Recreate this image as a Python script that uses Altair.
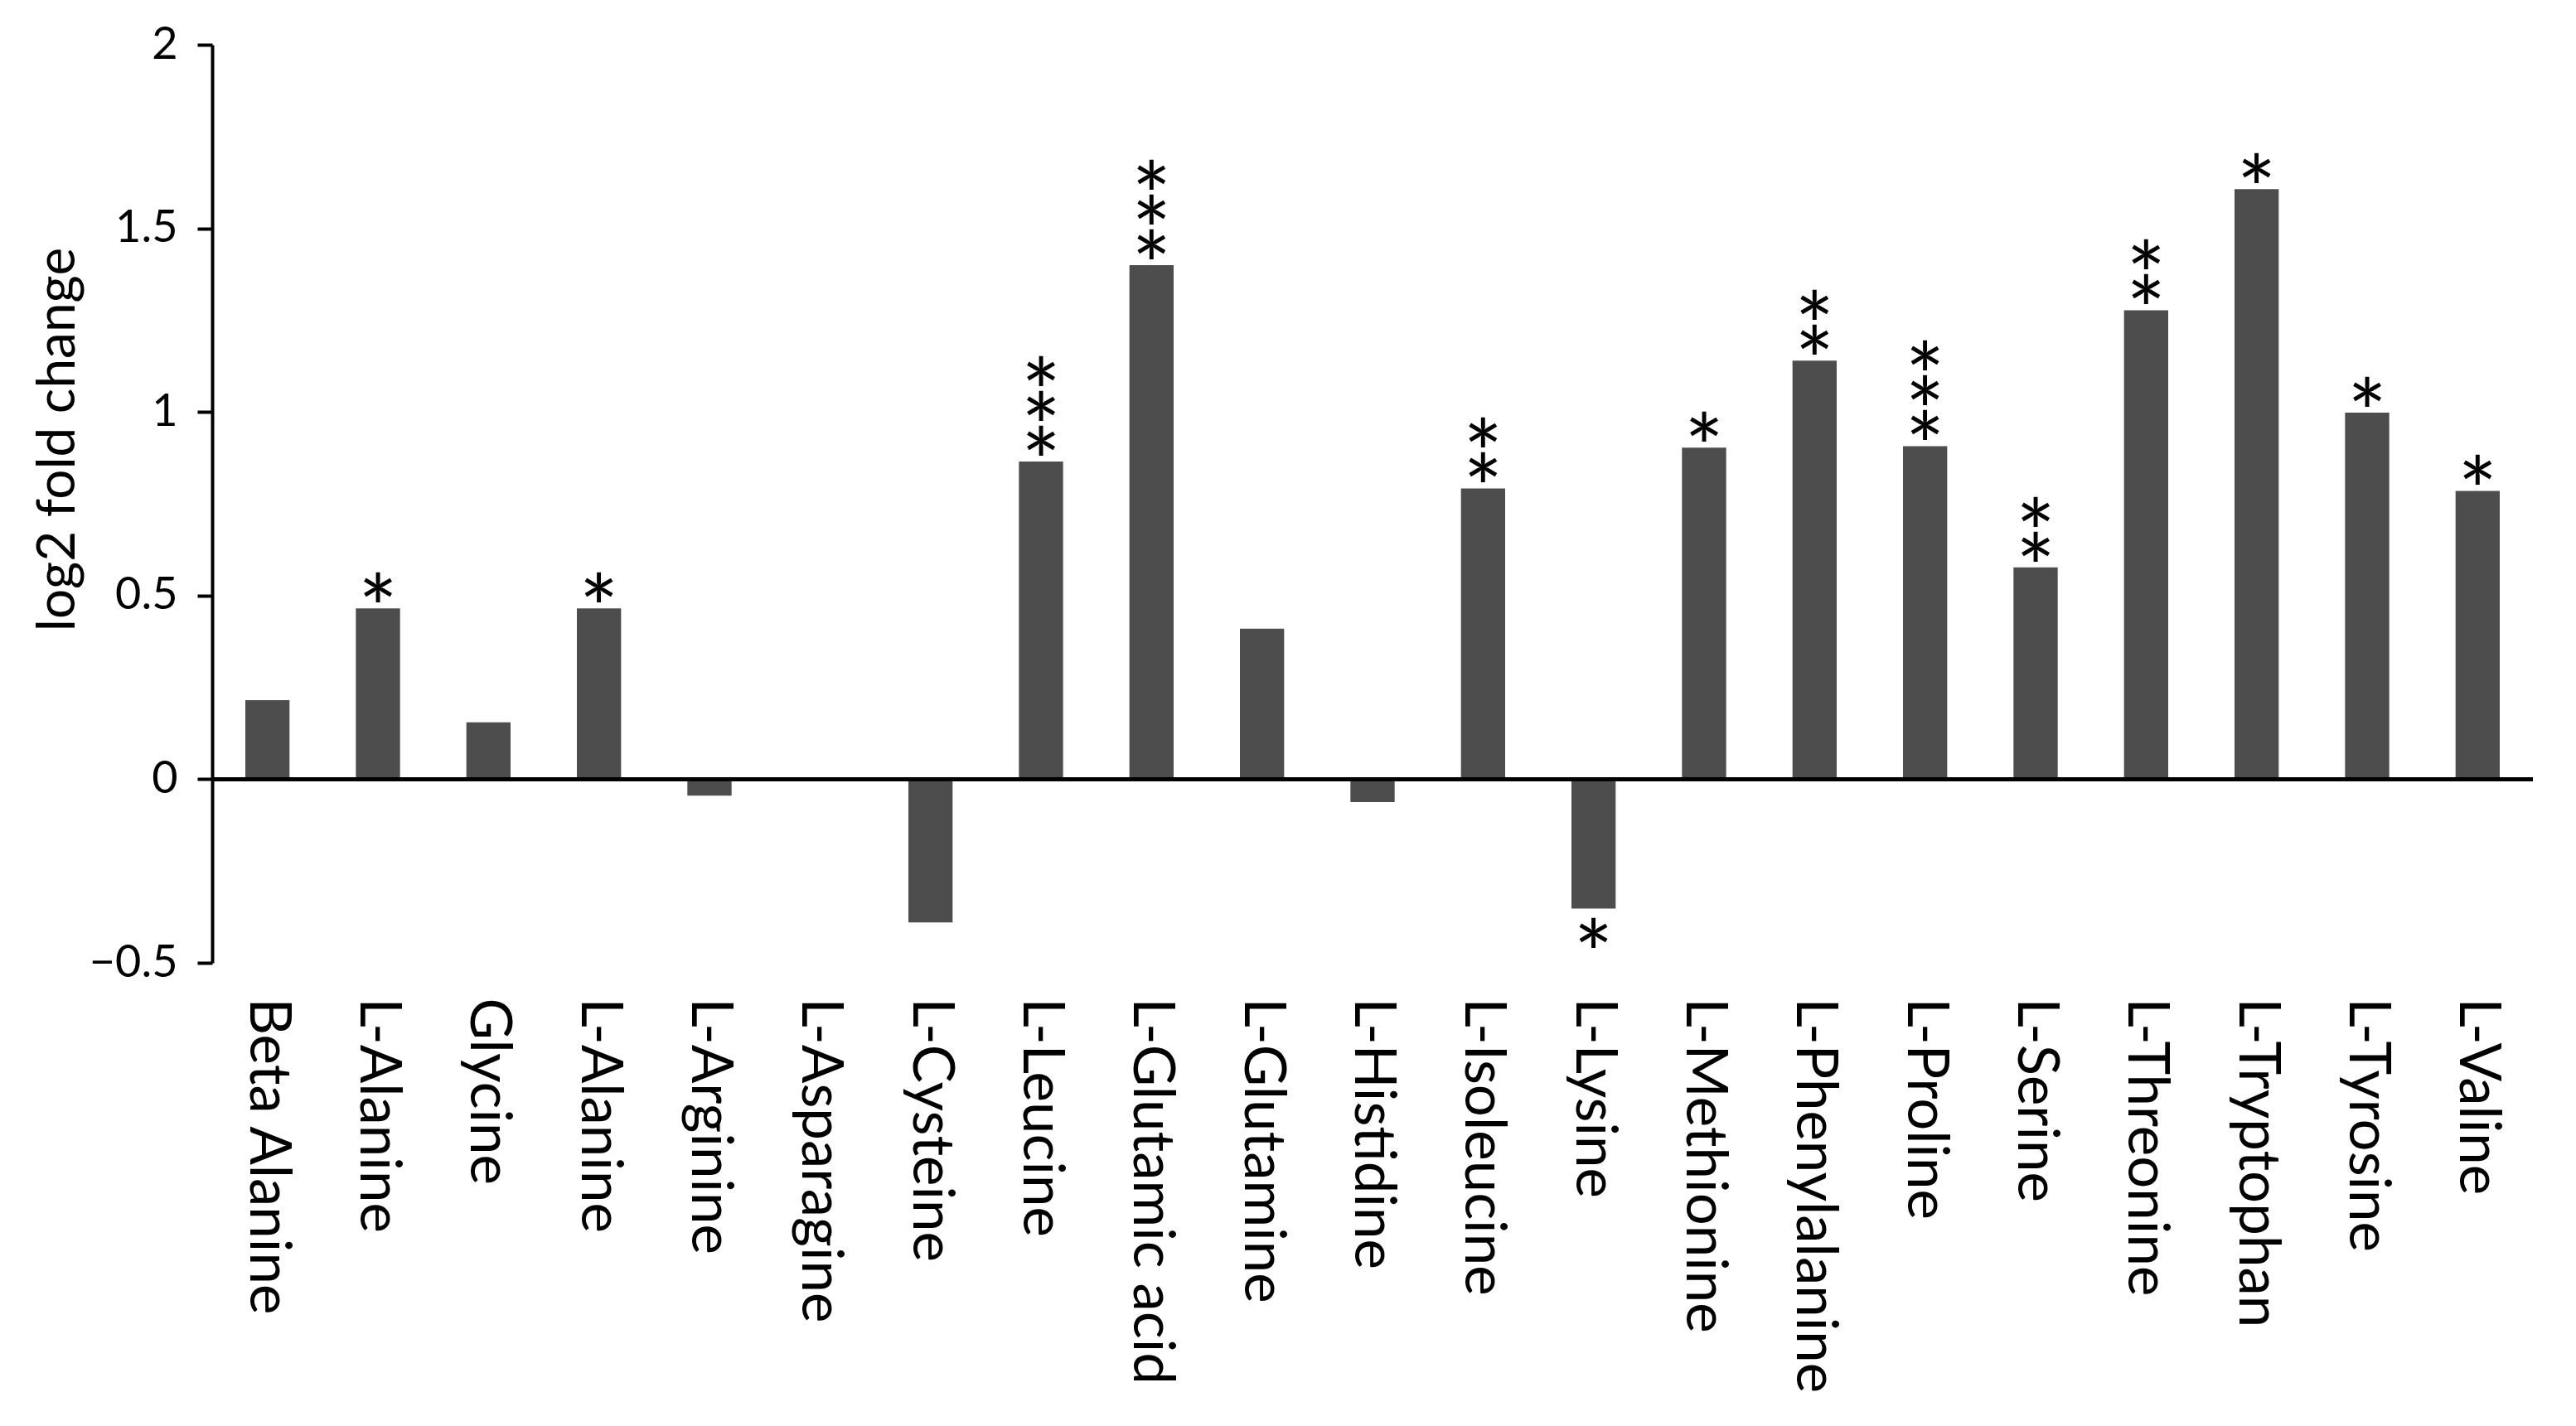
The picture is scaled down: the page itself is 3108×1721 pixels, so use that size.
import altair as alt
import pandas as pd

names = ["Beta Alanine", "L-Alanine", "Glycine", "L-Alanine", "L-Arginine",
         "L-Asparagine", "L-Cysteine", "L-Leucine", "L-Glutamic acid", "L-Glutamine",
         "L-Histidine", "L-Isoleucine", "L-Lysine", "L-Methionine", "L-Phenylalanine",
         "L-Proline", "L-Serine", "L-Threonine", "L-Tryptophan", "L-Tyrosine", "L-Valine"]
values = [0.215, 0.465, 0.155, 0.465, -0.045,
          0.0, -0.39, 0.865, 1.40, 0.41,
          -0.062, 0.792, -0.352, 0.903, 1.14,
          0.907, 0.577, 1.277, 1.607, 0.998, 0.785]
stars = [0, 1, 0, 1, 0,
         0, 0, 3, 3, 0,
         0, 2, 1, 1, 2,
         3, 2, 2, 1, 1, 1]
y_ticks = [-0.5, 0, 0.5, 1, 1.5, 2]

df = pd.DataFrame({
    "idx": list(range(len(names))),
    "name": names,
    "value": values,
    "n": stars,
})

label_expr = "[" + ",".join("'%s'" % n for n in names) + "][datum.value]"
FONT = "Lato"
STAR_SIZE = 112
PITCH = 42

x_enc = alt.X(
    "idx:O",
    scale=alt.Scale(paddingInner=0.6, paddingOuter=0.3),
    axis=alt.Axis(
        title=None, labelExpr=label_expr, labelAngle=90, labelAlign="left",
        labelBaseline="middle", domain=False, ticks=False, labelPadding=42,
        labelFont=FONT, labelFontSize=69, labelColor="#000000", labelLimit=0,
    ),
)
y_enc = alt.Y(
    "value:Q",
    scale=alt.Scale(domain=[-0.5, 2], nice=False, zero=True),
    axis=alt.Axis(
        values=y_ticks, format="~g", grid=False,
        title="log2 fold change", titleFont=FONT, titleFontSize=64,
        titleFontWeight="normal", titleColor="#000000",
        titleAngle=270, titleAlign="center", titleBaseline="middle",
        titleX=-186, titleY=476,
        domainColor="#000000", domainWidth=4,
        tickColor="#000000", tickWidth=4, tickSize=18,
        labelFont=FONT, labelFontSize=54, labelColor="#000000", labelPadding=24,
    ),
)

base = alt.Chart(df)

bars = base.mark_bar(color="#4d4d4d").encode(x=x_enc, y=y_enc)

zero = base.mark_rule(color="#000000", strokeWidth=4).encode(y=alt.datum(0))

layers = [bars, zero]
for k in range(1, 4):
    layers.append(
        base.transform_filter(f"datum.value >= 0 && datum.n >= {k}").mark_text(
            text="*", baseline="bottom", dy=66 - (k - 1) * PITCH,
            fontSize=STAR_SIZE, font=FONT, color="#000000",
        ).encode(x=alt.X("idx:O"), y=alt.Y("value:Q"))
    )
layers.append(
    base.transform_filter("datum.value < 0 && datum.n >= 1").mark_text(
        text="*", baseline="top", dy=9,
        fontSize=STAR_SIZE, font=FONT, color="#000000",
    ).encode(x=alt.X("idx:O"), y=alt.Y("value:Q"))
)

chart = alt.layer(*layers).properties(
    width=2800, height=1108,
    autosize=alt.AutoSizeParams(type="none"),
    padding={"left": 248, "top": 46, "right": 44, "bottom": 545},
    background="#ffffff",
).configure_view(strokeWidth=0)

chart.save("out.html", embed_options={"renderer": "svg", "actions": False})
